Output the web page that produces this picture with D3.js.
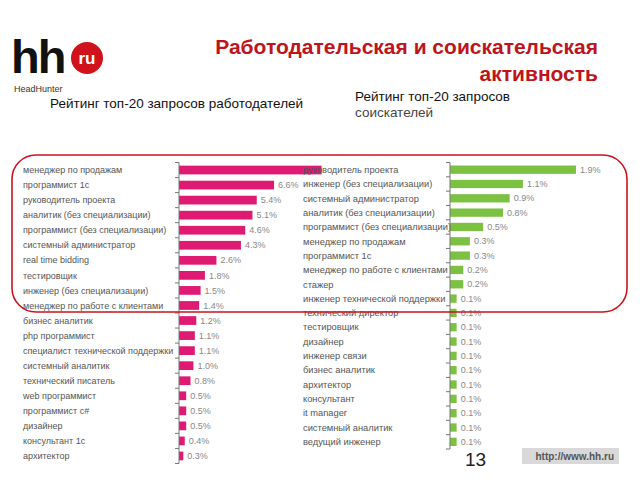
<!DOCTYPE html>
<html><head><meta charset="utf-8">
<script src="https://cdn.jsdelivr.net/npm/d3@7/dist/d3.min.js"></script>
<style>body{margin:0;background:#fff}svg{display:block;font-family:"Liberation Sans",Arial,sans-serif}</style>
</head><body><svg id="c" width="640" height="480"></svg>
<script>
const employerCats = ["менеджер по продажам","программист 1с","руководитель проекта","аналитик (без специализации)","программист (без специализации)","системный администратор","real time bidding","тестировщик","инженер (без специализации)","менеджер по работе с клиентами","бизнес аналитик","php программист","специалист технической поддержки","системный аналитик","технический писатель","web программист","программист c#","дизайнер","консультант 1с","архитектор"];
const employerVals = [9.9,6.6,5.4,5.1,4.6,4.3,2.6,1.8,1.5,1.4,1.2,1.1,1.1,1.0,0.8,0.5,0.5,0.5,0.4,0.3];
const seekerCats = ["руководитель проекта","инженер (без специализации)","системный администратор","аналитик (без специализации)","программист (без специализации)","менеджер по продажам","программист 1с","менеджер по работе с клиентами","стажер","инженер технической поддержки","технический директор","тестировщик","дизайнер","инженер связи","бизнес аналитик","архитектор","консультант","it manager","системный аналитик","ведущий инженер"];
const seekerVals = [1.9,1.1,0.9,0.8,0.5,0.3,0.3,0.2,0.2,0.1,0.1,0.1,0.1,0.1,0.1,0.1,0.1,0.1,0.1,0.1];

const svg = d3.select("#c");
const fmt = v => v.toFixed(1) + "%";

function chart(cats, vals, o){
  const y = d3.scaleBand().domain(cats).range([o.y0, o.y1]).paddingInner(0.42).paddingOuter(0.21);
  const x = d3.scaleLinear().domain([0, o.max]).range([o.x0, o.x0 + o.w]);
  const g = svg.append("g");
  if (o.bg) g.append("rect").attr("x", o.bgx).attr("y", o.y0 - 8).attr("width", 640 - o.bgx).attr("height", o.y1 - o.y0 + 20).attr("fill", "#fff");
  g.selectAll("rect.bar").data(vals).join("rect").attr("class","bar")
    .attr("x", x(0)).attr("y", (d,i)=>y(cats[i])).attr("height", y.bandwidth())
    .attr("width", d => x(d) - x(0)).attr("fill", o.color);
  const shown = vals.map((d,i)=>({d,i})).filter(e => x(e.d) + 4 < o.labelLimit);
  g.selectAll("text.v").data(shown).join("text").attr("class","v")
    .attr("x", e => x(e.d) + 4).attr("y", e => y(cats[e.i]) + y.bandwidth()/2)
    .attr("dy","0.35em").attr("font-size", 9).attr("fill","#888").text(e => fmt(e.d));
  g.selectAll("text.c").data(cats).join("text").attr("class","c")
    .attr("x", o.lx).attr("y", d => y(d) + y.bandwidth()/2).attr("dy","0.35em")
    .attr("font-size", o.fs).attr("fill","#555").text(d=>d);
  g.append("line").attr("x1", x(0)).attr("x2", x(0)).attr("y1", o.y0).attr("y2", o.y1).attr("stroke","#777");
  const step = y.step();
  const ticks = d3.range(cats.length + 1).map(i => o.y0 + i * step);
  g.selectAll("line.t").data(ticks).join("line").attr("class","t")
    .attr("x1", x(0) - 4).attr("x2", x(0)).attr("y1", d=>d).attr("y2", d=>d).attr("stroke","#777");
}

chart(employerCats, employerVals, {y0:162.5, y1:463.5, x0:179, w:144, max:10, color:"#de1a73", lx:23, fs:9, labelLimit:318});
chart(seekerCats, seekerVals, {y0:162.5, y1:449, x0:450, w:132.6, max:2, color:"#7cc142", lx:303, fs:9.3, bg:true, bgx:322, labelLimit:640});

// rounded highlight frame
svg.append("rect").attr("x", 12).attr("y", 155).attr("width", 615).attr("height", 157)
  .attr("rx", 24).attr("fill","none").attr("stroke","#c8141e").attr("stroke-width", 1.6);

// logo
svg.append("text").attr("x", 11).attr("y", 73).attr("font-size", 47).attr("font-weight","bold")
  .attr("letter-spacing", -2).attr("fill","#111").text("hh");
svg.append("circle").attr("cx", 87).attr("cy", 58).attr("r", 16).attr("fill","#d0121b");
svg.append("text").attr("x", 87).attr("y", 64).attr("text-anchor","middle").attr("font-size", 17)
  .attr("font-weight","bold").attr("fill","#fff").text("ru");
svg.append("text").attr("x", 14).attr("y", 92).attr("font-size", 9).attr("fill","#333").text("HeadHunter");

// title
svg.append("text").attr("x", 598).attr("y", 54).attr("text-anchor","end").attr("font-size", 21)
  .attr("font-weight","bold").attr("fill","#c0141d").text("Работодательская и соискательская");
svg.append("text").attr("x", 598).attr("y", 81).attr("text-anchor","end").attr("font-size", 21)
  .attr("font-weight","bold").attr("fill","#c0141d").text("активность");

// subtitles
svg.append("text").attr("x", 50).attr("y", 108).attr("font-size", 13.5).attr("fill","#111").text("Рейтинг топ-20 запросов работодателей");
svg.append("text").attr("x", 355).attr("y", 101).attr("font-size", 13.5).attr("fill","#111").text("Рейтинг топ-20 запросов");
svg.append("text").attr("x", 355).attr("y", 117).attr("font-size", 13.5).attr("fill","#444").text("соискателей");

// footer
svg.append("text").attr("x", 465).attr("y", 466).attr("font-size", 19).attr("fill","#222").text("13");
svg.append("rect").attr("x", 522).attr("y", 448).attr("width", 97).attr("height", 16).attr("fill","#d9d9d9");
svg.append("text").attr("x", 614).attr("y", 460).attr("text-anchor","end").attr("font-size", 10)
  .attr("font-weight","bold").attr("fill","#555").text("http://www.hh.ru");
</script></body></html>
